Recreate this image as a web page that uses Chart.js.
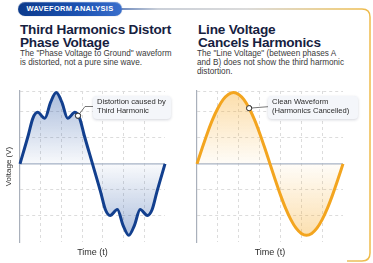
<!DOCTYPE html>
<html>
<head>
<meta charset="utf-8">
<script src="https://cdn.jsdelivr.net/npm/chart.js@4.4.1/dist/chart.umd.min.js"></script>
<style>
  html, body { margin: 0; padding: 0; background: #fff; }
  body { width: 373px; height: 263px; position: relative; overflow: hidden; font-family: "Liberation Sans", Arial, sans-serif; }
  .badge { position: absolute; left: 18px; top: 2px; width: 104px; height: 14px; border-radius: 7px;
    background: linear-gradient(90deg, #0b3a8c 0%, #1d53b3 60%, #3a6fcc 100%);
    box-shadow: inset 0 1px 0 rgba(255,255,255,0.25), 0 0 1px rgba(10,40,100,0.5);
    color: #fff; font-weight: bold; font-size: 7.5px; letter-spacing: 0.25px; line-height: 14px; text-align: center; }
  .title { position: absolute; top: 22.5px; font-weight: bold; font-size: 13.6px; letter-spacing: -0.2px; line-height: 13.6px; color: #16213f; }
  .sub { position: absolute; top: 49px; font-size: 8.2px; line-height: 9px; color: #3a3a3a; }
  .callout { position: absolute; background: #f4f6fa; border-radius: 4px; box-shadow: 0 1px 3px rgba(40,50,80,0.2);
    font-size: 7.6px; line-height: 8.5px; color: #2c2c2c; padding: 2px 0 0 4px; box-sizing: border-box; }
  canvas { position: absolute; }
  svg { position: absolute; left: 0; top: 0; }
</style>
</head>
<body>
<svg width="373" height="263">
  <defs>
    <linearGradient id="frame" gradientUnits="userSpaceOnUse" x1="120" y1="0" x2="372" y2="0">
      <stop offset="0" stop-color="#3d63a8"/>
      <stop offset="0.15" stop-color="#b9c0cc"/>
      <stop offset="0.5" stop-color="#cfcfcf"/>
      <stop offset="0.85" stop-color="#e6c16a"/>
      <stop offset="1" stop-color="#efbb4a"/>
    </linearGradient>
  </defs>
  <path d="M121,9 H362 Q370,9 370,17 V253 Q370,261 362,261 H347" fill="none" stroke="url(#frame)" stroke-width="1.5"/>
</svg>
<div class="badge">WAVEFORM ANALYSIS</div>

<div class="title" style="left:20px">Third Harmonics Distort<br>Phase Voltage</div>
<div class="sub" style="left:20px">The "Phase Voltage to Ground" waveform<br>is distorted, not a pure sine wave.</div>

<div class="title" style="left:198px">Line Voltage<br>Cancels Harmonics</div>
<div class="sub" style="left:197px">The "Line Voltage" (between phases A<br>and B) does not show the third harmonic<br>distortion.</div>

<canvas id="phaseChart" width="185" height="183" style="left:0;top:80px;width:185px;height:183px"></canvas>
<canvas id="lineChart" width="188" height="183" style="left:185px;top:80px;width:188px;height:183px"></canvas>

<div class="callout" style="left:93px;top:96px;width:78px;height:23px">Distortion caused by<br>Third Harmonic</div>
<div class="callout" style="left:268px;top:96px;width:90px;height:23px">Clean Waveform<br>(Harmonics Cancelled)</div>

<script>
// phase voltage to ground (fundamental + 3rd harmonic)
const timePhase = [0, 0.4, 0.62, 0.85, 1.2, 1.48, 1.75, 2.02, 2.3, 2.65, 2.88, 3.1, 3.5,
                   3.9, 4.12, 4.35, 4.7, 4.98, 5.25, 5.52, 5.8, 6.15, 6.38, 6.6, 7.0];
const phaseVoltage = [0, 1.1, 1.75, 1.98, 1.75, 2.37, 2.74, 2.37, 1.75, 1.98, 1.75, 1.1, 0,
                      -1.1, -1.75, -1.98, -1.75, -2.37, -2.74, -2.37, -1.75, -1.98, -1.75, -1.1, 0];

// line voltage A-B (clean)
const timeLine = [0, 0.25, 0.5, 0.75, 1, 1.25, 1.5, 1.75, 2, 2.25, 2.5, 2.75, 3, 3.25, 3.5,
                  3.75, 4, 4.25, 4.5, 4.75, 5, 5.25, 5.5, 5.75, 6, 6.25, 6.5, 6.75, 7];
const lineVoltage = [0, 0.61, 1.19, 1.71, 2.14, 2.47, 2.67, 2.74, 2.67, 2.47, 2.14, 1.71, 1.19, 0.61, 0,
                     -0.61, -1.19, -1.71, -2.14, -2.47, -2.67, -2.74, -2.67, -2.47, -2.14, -1.71, -1.19, -0.61, 0];

// callout anchors on the curves
const phaseMarker = [{x: 2.8, y: 1.85}];
const lineMarker = [{x: 2.5, y: 2.14}];

const T_MIN = 0, T_MAX = 7;
const V_MIN = -3, V_MAX = 2.8;

function toPoints(xs, ys) {
  return xs.map((x, i) => ({x: x, y: ys[i]}));
}

function fillGradient(r, g, b) {
  return function(context) {
    const chart = context.chart;
    const area = chart.chartArea;
    if (!area) return 'rgba(' + r + ',' + g + ',' + b + ',0.2)';
    const y0 = chart.scales.y.getPixelForValue(0);
    const stop = (y0 - area.top) / (area.bottom - area.top);
    const grad = chart.ctx.createLinearGradient(0, area.top, 0, area.bottom);
    grad.addColorStop(0, 'rgba(' + r + ',' + g + ',' + b + ',0.4)');
    grad.addColorStop(stop, 'rgba(' + r + ',' + g + ',' + b + ',0.03)');
    grad.addColorStop(1, 'rgba(' + r + ',' + g + ',' + b + ',0.4)');
    return grad;
  };
}

// zero line + leader lines to the callouts
function leaderPlugin(elbow, endX, endY) {
  return {
    id: 'leader',
    beforeDatasetsDraw(chart) {
      const c = chart.ctx, area = chart.chartArea;
      const y0 = chart.scales.y.getPixelForValue(0);
      c.save();
      c.strokeStyle = '#a7b3c6';
      c.lineWidth = 1.2;
      c.beginPath();
      c.moveTo(area.left, y0);
      c.lineTo(area.right, y0);
      c.stroke();
      c.restore();
    },
    afterDatasetsDraw(chart) {
      const pt = chart.getDatasetMeta(1).data[0];
      const c = chart.ctx;
      c.save();
      c.strokeStyle = '#555';
      c.lineWidth = 0.8;
      c.beginPath();
      c.moveTo(pt.x, pt.y);
      if (elbow) c.lineTo(elbow[0], elbow[1]);
      c.lineTo(endX, endY);
      c.stroke();
      c.restore();
      pt.draw(c);
    }
  };
}

function makeConfig(points, marker, lineColor, rgb, yTitle, yWidth, padRight, plugin) {
  return {
    type: 'line',
    data: {
      datasets: [{
        data: points,
        borderColor: lineColor,
        borderWidth: 3,
        pointRadius: 0,
        cubicInterpolationMode: 'monotone',
        fill: 'origin',
        backgroundColor: fillGradient(rgb[0], rgb[1], rgb[2]),
        clip: false
      }, {
        data: marker,
        showLine: false,
        pointRadius: 2.6,
        pointBackgroundColor: '#fff',
        pointBorderColor: '#333',
        pointBorderWidth: 1,
        clip: false
      }]
    },
    options: {
      responsive: false,
      animation: false,
      devicePixelRatio: 1,
      layout: { padding: { top: 11, right: padRight, bottom: 0, left: 0 } },
      plugins: { legend: { display: false }, tooltip: { enabled: false } },
      scales: {
        x: {
          type: 'linear', min: T_MIN, max: T_MAX,
          ticks: { display: false, stepSize: 1 },
          grid: {
            drawTicks: false,
            color: (ctx) => (ctx.tick && (ctx.tick.value === T_MIN || ctx.tick.value === T_MAX)) ? 'rgba(0,0,0,0)' : '#dcdcdc',
            lineWidth: 1
          },
          border: { display: false, dash: [3, 3] },
          title: { display: true, text: 'Time (t)', color: '#2e2e2e', font: { size: 9, family: '"Liberation Sans", Arial, sans-serif' }, padding: { top: 0, bottom: 4.6 } },
          afterFit: (scale) => { scale.height = 21; }
        },
        y: {
          min: V_MIN, max: V_MAX,
          ticks: { display: false, stepSize: 1 },
          grid: {
            drawTicks: false,
            color: (ctx) => (ctx.tick && (ctx.tick.value === 0 || ctx.tick.value === V_MIN)) ? 'rgba(0,0,0,0)' : '#dcdcdc',
            lineWidth: 1
          },
          border: { display: true, color: '#a9b0bb', width: 1.2, dash: [3, 3] },
          title: { display: !!yTitle, text: yTitle, color: '#2e2e2e', font: { size: 8, family: '"Liberation Sans", Arial, sans-serif' }, padding: { top: 4, bottom: 0 } },
          afterFit: (scale) => { scale.width = yWidth; }
        }
      }
    },
    plugins: [plugin]
  };
}

const phaseChart = new Chart(
  document.getElementById('phaseChart'),
  makeConfig(toPoints(timePhase, phaseVoltage), phaseMarker, '#123f8e', [40, 86, 165],
    'Voltage (V)', 20, 20, leaderPlugin([85, 26.5], 93, 26.5))
);

const lineChart = new Chart(
  document.getElementById('lineChart'),
  makeConfig(toPoints(timeLine, lineVoltage), lineMarker, '#f3a51f', [246, 170, 40],
    '', 12, 30, leaderPlugin(null, 83, 26.7))
);
</script>
</body>
</html>
